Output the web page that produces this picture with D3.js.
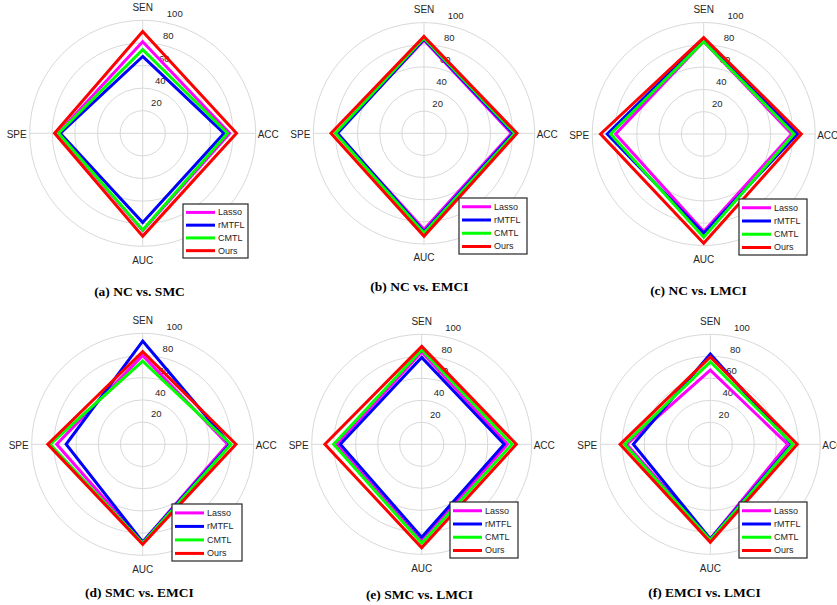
<!DOCTYPE html>
<html>
<head>
<meta charset="utf-8">
<script src="https://cdn.jsdelivr.net/npm/d3@7"></script>
<style>
  html, body { margin: 0; padding: 0; background: #fff; }
  svg { display: block; }
</style>
</head>
<body>
<svg id="chart" width="837" height="605"></svg>
<script>
// Metric axes, clockwise from the top
const metrics = ["SEN", "ACC", "AUC", "SPE"];
const methods = ["Lasso", "rMTFL", "CMTL", "Ours"];
const methodColors = ["#ff00ff", "#0000ff", "#00ff00", "#ff0000"];
const radialTicks = [20, 40, 60, 80, 100];
const panelTitles = [
  "(a) NC vs. SMC", "(b) NC vs. EMCI", "(c) NC vs. LMCI",
  "(d) SMC vs. EMCI", "(e) SMC vs. LMCI", "(f) EMCI vs. LMCI"
];

// Scores per panel, in metric order [SEN, ACC, AUC, SPE]
const lassoScores = [
  [81, 77, 86, 75], [84, 79, 87, 79], [83, 79, 87.5, 79],
  [80, 76.5, 88, 77.5], [84, 78, 88, 77], [67.5, 70.5, 86, 76]
];
const rmtflScores = [
  [68, 72, 79, 73], [85, 80.5, 89, 78], [85, 84, 89, 86.5],
  [93, 78.5, 88, 69], [79, 75, 84.5, 74], [82, 74, 86, 70]
];
const cmtlScores = [
  [74, 75, 85.5, 74.5], [86, 82, 90, 80], [83, 81, 92.5, 83.5],
  [75, 79.5, 89, 83.5], [86, 82, 90, 80], [75, 75, 87, 78]
];
const oursScores = [
  [90, 83, 91, 78], [87.5, 84, 93, 84], [86.5, 87.5, 98, 92.5],
  [83.5, 84, 90, 85.5], [89, 86, 94, 88], [79.5, 79, 89, 82]
];
const scoresByMethod = [lassoScores, rmtflScores, cmtlScores, oursScores];

// Panel layout: polar centre, outer radius, legend box, caption position
const panels = [
  { cx: 142.7, cy: 133.3, r: 113,   lg: [183, 204, 65, 54],   cap: [139.5, 296] },
  { cx: 424,   cy: 133.3, r: 110.7, lg: [459, 198, 68, 56],   cap: [419.5, 291] },
  { cx: 703.7, cy: 134,   r: 111.5, lg: [739, 199, 68, 56],   cap: [698.5, 295] },
  { cx: 142.7, cy: 444.3, r: 111,   lg: [172, 504, 70, 57],   cap: [139.5, 597] },
  { cx: 421.7, cy: 444.3, r: 110,   lg: [450, 502, 68, 56],   cap: [419.5, 599] },
  { cx: 710.3, cy: 444.3, r: 110,   lg: [739, 502, 68, 56],   cap: [704.5, 597] }
];

const svg = d3.select("#chart");
const sansFont = "'Liberation Sans', Arial, sans-serif";
const serifFont = "'Liberation Serif', 'Times New Roman', serif";
const gridColor = "#d9d9d9";

panels.forEach((p, pi) => {
  const g = svg.append("g").attr("transform", `translate(${p.cx},${p.cy})`);
  const rScale = d3.scaleLinear().domain([0, 100]).range([0, p.r]);
  const angle = d3.scalePoint().domain(metrics).range([0, 2 * Math.PI * 3 / 4]);

  // concentric grid rings
  g.selectAll("circle.grid").data(radialTicks).join("circle")
    .attr("class", "grid")
    .attr("r", d => rScale(d))
    .attr("fill", "none")
    .attr("stroke", gridColor)
    .attr("stroke-width", 1);

  // spokes along each metric
  g.selectAll("line.spoke").data(metrics).join("line")
    .attr("class", "spoke")
    .attr("x1", 0).attr("y1", 0)
    .attr("x2", d => rScale(100) * Math.sin(angle(d)))
    .attr("y2", d => -rScale(100) * Math.cos(angle(d)))
    .attr("stroke", gridColor)
    .attr("stroke-width", 1);

  // radial tick labels, placed just outside each ring at 80 degrees
  const tickAng = 80 * Math.PI / 180;
  g.selectAll("text.tick").data(radialTicks).join("text")
    .attr("class", "tick")
    .attr("x", d => rScale(d) * Math.cos(tickAng) + 4.5)
    .attr("y", d => -rScale(d) * Math.sin(tickAng) - 8.5)
    .attr("dominant-baseline", "central")
    .attr("font-family", sansFont)
    .attr("font-size", 9.5)
    .attr("fill", "#262626")
    .text(d => d);

  // score polygons
  const radial = d3.lineRadial()
    .angle((d, i) => angle(metrics[i]))
    .radius(d => rScale(d))
    .curve(d3.curveLinearClosed);

  methods.forEach((m, mi) => {
    g.append("path")
      .datum(scoresByMethod[mi][pi])
      .attr("d", radial)
      .attr("fill", "none")
      .attr("stroke", methodColors[mi])
      .attr("stroke-width", 3)
      .attr("stroke-linejoin", "miter");
  });

  // metric labels
  const R = rScale(100);
  const labelPos = {
    SEN: { x: 0, y: -R - 13, anchor: "middle" },
    ACC: { x: R + 2, y: 1, anchor: "start" },
    AUC: { x: 0, y: R + 14, anchor: "middle" },
    SPE: { x: -R - 3, y: 1, anchor: "end" }
  };
  g.selectAll("text.metric").data(metrics).join("text")
    .attr("class", "metric")
    .attr("x", d => labelPos[d].x)
    .attr("y", d => labelPos[d].y)
    .attr("text-anchor", d => labelPos[d].anchor)
    .attr("dominant-baseline", "central")
    .attr("font-family", sansFont)
    .attr("font-size", 10)
    .attr("fill", "#262626")
    .text(d => d);

  // legend
  const [lx, ly, lw, lh] = p.lg;
  const lg = svg.append("g").attr("transform", `translate(${lx},${ly})`);
  lg.append("rect")
    .attr("width", lw).attr("height", lh)
    .attr("fill", "#fff")
    .attr("stroke", "#262626")
    .attr("stroke-width", 1.2);
  const step = (lh - 3) / 4;
  methods.forEach((m, mi) => {
    const y = step * (mi + 0.66);
    lg.append("line")
      .attr("x1", 3).attr("x2", 32)
      .attr("y1", y).attr("y2", y)
      .attr("stroke", methodColors[mi])
      .attr("stroke-width", 3);
    lg.append("text")
      .attr("x", 35).attr("y", y)
      .attr("dominant-baseline", "central")
      .attr("font-family", sansFont)
      .attr("font-size", 9)
      .attr("fill", "#262626")
      .text(m);
  });

  // panel caption
  svg.append("text")
    .attr("x", p.cap[0]).attr("y", p.cap[1])
    .attr("text-anchor", "middle")
    .attr("font-family", serifFont)
    .attr("font-weight", "bold")
    .attr("font-size", 13.5)
    .attr("fill", "#000")
    .text(panelTitles[pi]);
});
</script>
</body>
</html>
